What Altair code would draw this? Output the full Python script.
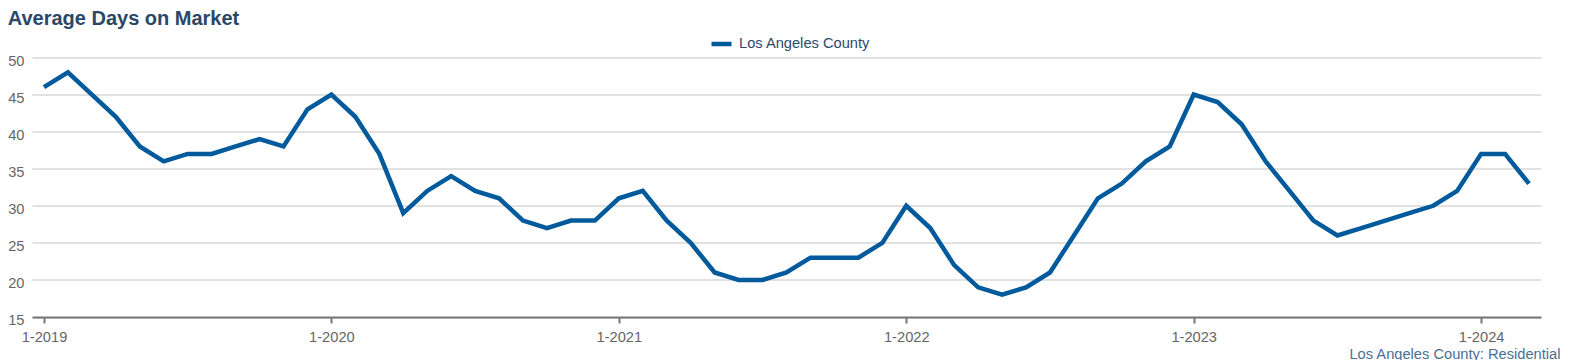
import altair as alt
import pandas as pd

# ---- data (monthly average days on market, Jan 2019 - Mar 2024) ----
values_2019 = [46, 48, 45, 42, 38, 36, 37, 37, 38, 39, 38, 43]
values_2020 = [45, 42, 37, 29, 32, 34, 32, 31, 28, 27, 28, 28]
values_2021 = [31, 32, 28, 25, 21, 20, 20, 21, 23, 23, 23, 25]
values_2022 = [30, 27, 22, 19, 18, 19, 21, 26, 31, 33, 36, 38]
values_2023 = [45, 44, 41, 36, 32, 28, 26, 27, 28, 29, 30, 32]
values_2024 = [37, 37, 33]

series_name = "Los Angeles County"
tick_labels = ["1-2019", "1-2020", "1-2021", "1-2022", "1-2023", "1-2024"]
y_ticks = [15, 20, 25, 30, 35, 40, 45, 50]

values = values_2019 + values_2020 + values_2021 + values_2022 + values_2023 + values_2024
df = pd.DataFrame({
    "i": list(range(len(values))),
    "days": values,
    "series": [series_name] * len(values),
})

FONT = "Arial, Liberation Sans, sans-serif"
label_expr = "[" + ",".join("'%s'" % t for t in tick_labels) + "][floor(datum.value / 12)]"

chart = alt.Chart(df).mark_line(strokeWidth=4.5, strokeJoin="miter").encode(
    x=alt.X(
        "i:Q",
        scale=alt.Scale(domain=[-0.5, len(values) - 0.5], nice=False, zero=False),
        axis=alt.Axis(
            values=[0, 12, 24, 36, 48, 60],
            labelExpr=label_expr,
            grid=False,
            domainColor="#777777",
            domainWidth=2,
            tickColor="#777777",
            tickWidth=2,
            tickSize=6,
            labelPadding=6,
            labelColor="#666666",
            labelFont=FONT,
            labelFontSize=14.67,
            title="Los Angeles County: Residential",
            titleAnchor="end",
            titleAlign="right",
            titleBaseline="alphabetic",
            titleX=1528,
            titleY=41,
            titleColor="#4a6f96",
            titleFont=FONT,
            titleFontSize=14.67,
            titleFontWeight="normal",
        ),
    ),
    y=alt.Y(
        "days:Q",
        scale=alt.Scale(domain=[15, 50], nice=False, zero=False),
        axis=alt.Axis(
            values=y_ticks,
            domain=False,
            ticks=False,
            gridColor="#c4c4c4",
            gridWidth=1,
            labelPadding=8,
            labelOffset=3.5,
            labelColor="#666666",
            labelFont=FONT,
            labelFontSize=14.67,
            title=None,
        ),
    ),
    color=alt.Color(
        "series:N",
        scale=alt.Scale(range=["#005a9c"]),
        legend=alt.Legend(
            title=None,
            orient="none",
            legendX=677,
            legendY=-26,
            padding=0,
            symbolType="stroke",
            symbolSize=400,
            symbolStrokeWidth=4.5,
            labelOffset=5,
            labelColor="#2c4a6b",
            labelFont=FONT,
            labelFontSize=14.67,
        ),
    ),
).properties(
    width=1509,
    height=259.5,
    padding={"left": 24, "top": 49.5, "right": 21, "bottom": 43},
    autosize=alt.AutoSizeParams(type="none"),
    title=alt.TitleParams(
        "Average Days on Market",
        anchor="start",
        dx=0,
        dy=21,
        offset=8,
        baseline="alphabetic",
        font=FONT,
        fontSize=20,
        fontWeight="bold",
        color="#2a4769",
    ),
).configure_view(stroke=None)

chart.save("out.html", embed_options={"renderer": "svg", "actions": False})
